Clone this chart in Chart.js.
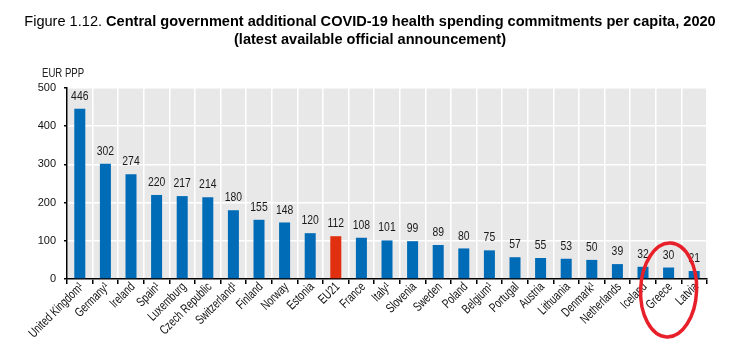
<!DOCTYPE html>
<html>
<head>
<meta charset="utf-8">
<script src="https://cdn.jsdelivr.net/npm/chart.js@4/dist/chart.umd.min.js"></script>
<style>
  body { margin: 0; background: #fff; }
  canvas { display: block; }
</style>
</head>
<body>
<canvas id="chart" width="741" height="345"></canvas>
<script>
const countries = ['United Kingdom¹', 'Germany¹', 'Ireland', 'Spain¹', 'Luxemburg', 'Czech Republic',
  'Switzerland¹', 'Finland', 'Norway', 'Estonia', 'EU21', 'France', 'Italy¹', 'Slovenia', 'Sweden',
  'Poland', 'Belgium¹', 'Portugal', 'Austria', 'Lithuania', 'Denmark¹', 'Netherlands', 'Iceland',
  'Greece', 'Latvia'];
const spending = [446, 302, 274, 220, 217, 214, 180, 155, 148, 120, 112, 108, 101, 99, 89,
  80, 75, 57, 55, 53, 50, 39, 32, 30, 21];
const yTicks = [0, 100, 200, 300, 400, 500];
const highlight = 'EU21';
const circled = 'Greece';

const FONT = "'Liberation Sans', Arial, sans-serif";
const BLUE = '#006BB6', RED = '#E0300F';
const NARROW = 0.8; // squeeze text horizontally to look like Arial Narrow

// draw text compressed horizontally around its anchor
function narrowText(ctx, text, x, y, align, squeeze = NARROW, angle = 0) {
  ctx.save();
  ctx.translate(x, y);
  if (angle) ctx.rotate(angle);
  ctx.scale(squeeze, 1);
  ctx.textAlign = align;
  ctx.fillText(text, 0, 0);
  ctx.restore();
}

const extras = {
  id: 'extras',
  beforeDraw(chart) {
    const { ctx, chartArea: a } = chart;
    ctx.save();
    ctx.fillStyle = '#E8E8E8';
    ctx.fillRect(a.left, a.top, a.right - a.left, a.bottom - a.top);
    ctx.restore();
  },
  afterDatasetsDraw(chart) {
    const { ctx } = chart;
    const meta = chart.getDatasetMeta(0);
    ctx.save();
    ctx.font = '13px ' + FONT;
    ctx.fillStyle = '#1a1a1a';
    ctx.textBaseline = 'bottom';
    meta.data.forEach((bar, i) => {
      narrowText(ctx, String(spending[i]), bar.x, bar.y - 6, 'center');
    });
    ctx.restore();
  },
  afterDraw(chart) {
    const { ctx, scales } = chart;
    ctx.save();
    // title, mixed regular + bold
    const part1 = 'Figure 1.12. ';
    const part2 = 'Central government additional COVID-19 health spending commitments per capita, 2020';
    const tSq = 0.94;
    ctx.textBaseline = 'alphabetic';
    ctx.fillStyle = '#000';
    ctx.font = '15.5px ' + FONT;
    const w1 = ctx.measureText(part1).width * tSq;
    ctx.font = 'bold 15.5px ' + FONT;
    const w2 = ctx.measureText(part2).width * tSq;
    const x0 = 370 - (w1 + w2) / 2;
    ctx.font = '15.5px ' + FONT;
    narrowText(ctx, part1, x0, 26, 'left', tSq);
    ctx.font = 'bold 15.5px ' + FONT;
    narrowText(ctx, part2, x0 + w1, 26, 'left', tSq);
    narrowText(ctx, '(latest available official announcement)', 370, 44, 'center', tSq);

    // unit label
    ctx.font = '12px ' + FONT;
    ctx.fillStyle = '#222';
    ctx.textBaseline = 'middle';
    narrowText(ctx, 'EUR PPP', 42, 74, 'left');

    // category labels, rotated 45 degrees, ending at the category centre
    const xs = scales.x;
    ctx.font = '13px ' + FONT;
    ctx.fillStyle = '#111';
    countries.forEach((c, i) => {
      narrowText(ctx, c, xs.getPixelForValue(i) + 2, xs.top + 6, 'right', 0.74, -Math.PI / 4);
    });

    // red ellipse annotation
    const cx = xs.getPixelForValue(countries.indexOf(circled));
    const cy = scales.y.getPixelForValue(0) + 11;
    ctx.strokeStyle = '#E8202A';
    ctx.lineWidth = 3.5;
    ctx.beginPath();
    ctx.ellipse(cx, cy, 28, 47, 0.04, 0, Math.PI * 2);
    ctx.stroke();
    ctx.restore();
  }
};

new Chart(document.getElementById('chart'), {
  type: 'bar',
  data: {
    labels: countries,
    datasets: [{
      data: spending,
      backgroundColor: countries.map(c => c === highlight ? RED : BLUE),
      barPercentage: 0.43,
      categoryPercentage: 1
    }]
  },
  options: {
    responsive: false,
    animation: false,
    layout: { padding: { top: 88, right: 34, left: 0, bottom: 0 } },
    plugins: { legend: { display: false }, tooltip: { enabled: false } },
    scales: {
      x: {
        grid: { color: '#fff', lineWidth: 1.5, tickColor: '#000', tickLength: 5, offset: true },
        border: { color: '#000', width: 1.5 },
        ticks: { display: false },
        afterFit(scale) { scale.height = 66; scale.paddingLeft = 0; scale.paddingRight = 0; }
      },
      y: {
        min: 0, max: 500,
        afterBuildTicks(scale) { scale.ticks = yTicks.map(v => ({ value: v })); },
        grid: { color: '#fff', lineWidth: 1.5, tickColor: '#000', tickLength: 3 },
        border: { color: '#000', width: 1.5 },
        ticks: { color: '#111', font: { family: FONT, size: 11 }, padding: 8 },
        afterFit(scale) { scale.width = 67; }
      }
    }
  },
  plugins: [extras]
});
</script>
</body>
</html>
